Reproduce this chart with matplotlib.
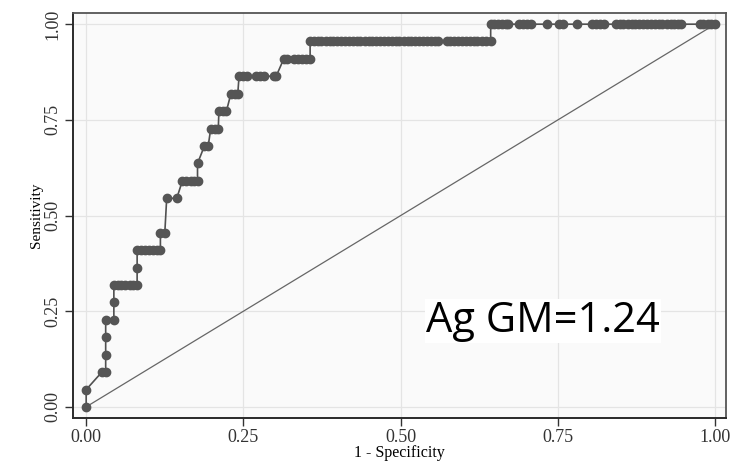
import matplotlib
matplotlib.use("Agg")
import matplotlib.pyplot as plt

plt.rcParams['font.family'] = ['Liberation Serif', 'DejaVu Serif']

# ROC points: 1 - specificity and sensitivity
fpr = [0.000, 0.000,
       0.025, 0.031,
       0.031, 0.031, 0.031,
       0.044, 0.044,
       0.044, 0.050, 0.056, 0.062, 0.069, 0.075, 0.081,
       0.081,
       0.081, 0.087, 0.094, 0.100, 0.106, 0.112, 0.118,
       0.118, 0.125,
       0.128, 0.144,
       0.153, 0.159, 0.166, 0.172, 0.177,
       0.177,
       0.188, 0.194,
       0.198, 0.204, 0.210,
       0.211, 0.217, 0.223,
       0.230, 0.236, 0.241,
       0.243, 0.249, 0.255, 0.270, 0.276, 0.282, 0.299, 0.302,
       0.314, 0.319, 0.331, 0.337, 0.343, 0.350, 0.356,
       0.356, 0.362, 0.368, 0.374, 0.381, 0.387, 0.393, 0.399, 0.405, 0.412,
       0.418, 0.424, 0.430, 0.436, 0.443, 0.449, 0.455, 0.461, 0.467, 0.474,
       0.480, 0.486, 0.492, 0.498, 0.505, 0.511, 0.517, 0.523, 0.529, 0.536,
       0.542, 0.548, 0.554, 0.560, 0.573, 0.579, 0.585, 0.591, 0.598, 0.604,
       0.610, 0.616, 0.622, 0.629, 0.635, 0.643,
       0.643, 0.649, 0.655, 0.661, 0.667, 0.671,
       0.688, 0.694, 0.700, 0.707,
       0.732,
       0.752, 0.758,
       0.780,
       0.804, 0.810, 0.817, 0.823,
       0.842, 0.848, 0.854, 0.861, 0.867, 0.873, 0.879, 0.885, 0.892, 0.898,
       0.904, 0.910, 0.916, 0.923, 0.929, 0.935, 0.941, 0.946,
       0.975, 0.981, 0.988, 0.994, 1.000]

sens = [0.000, 0.045,
        0.091, 0.091,
        0.136, 0.182, 0.227,
        0.227, 0.273,
        0.318, 0.318, 0.318, 0.318, 0.318, 0.318, 0.318,
        0.364,
        0.409, 0.409, 0.409, 0.409, 0.409, 0.409, 0.409,
        0.455, 0.455,
        0.545, 0.545,
        0.591, 0.591, 0.591, 0.591, 0.591,
        0.636,
        0.682, 0.682,
        0.727, 0.727, 0.727,
        0.773, 0.773, 0.773,
        0.818, 0.818, 0.818,
        0.864, 0.864, 0.864, 0.864, 0.864, 0.864, 0.864, 0.864,
        0.909, 0.909, 0.909, 0.909, 0.909, 0.909, 0.909] + [0.955] * 46 + [1.000] * 41

ticks = [0.00, 0.25, 0.50, 0.75, 1.00]
tick_labels = ["0.00", "0.25", "0.50", "0.75", "1.00"]

fig = plt.figure(figsize=(7.4, 4.67), dpi=100)
ax = fig.add_axes([0.0986, 0.105, 0.8824, 0.867])
ax.set_facecolor("#fafafa")

ax.plot(fpr, sens, color="#505050", lw=1.2, marker="o", ms=6.0,
        mfc="#555555", mec="#555555", zorder=3)
ax.plot([0, 1], [0, 1], color="#666666", lw=0.9, zorder=2)

ax.set_xlim(-0.021, 1.017)
ax.set_ylim(-0.029, 1.029)
ax.set_xticks(ticks)
ax.set_xticklabels(tick_labels)
ax.set_yticks(ticks)
ax.set_yticklabels(tick_labels, rotation=90, va="center")
ax.grid(True, color="#e4e4e4", lw=0.9)
ax.set_axisbelow(True)

ax.tick_params(length=6, width=1.0, color="#333333", labelcolor="#333333",
               labelsize=13, pad=2)

ax.set_xlabel("1 - Specificity", fontsize=11.5, labelpad=-1)
ax.set_ylabel("Sensitivity", fontsize=11, labelpad=1)

for side in ["left", "bottom"]:
    ax.spines[side].set_color("#2a2a2a")
    ax.spines[side].set_linewidth(1.4)
for side in ["top", "right"]:
    ax.spines[side].set_color("#555555")
    ax.spines[side].set_linewidth(1.3)

ax.text(0.54, 0.195, "Ag GM=1.24", family="Open Sans", fontsize=30, color="black",
        ha="left", va="baseline",
        bbox=dict(facecolor="white", edgecolor="none", pad=1))

fig.savefig("out.png", dpi=100, facecolor="white")
